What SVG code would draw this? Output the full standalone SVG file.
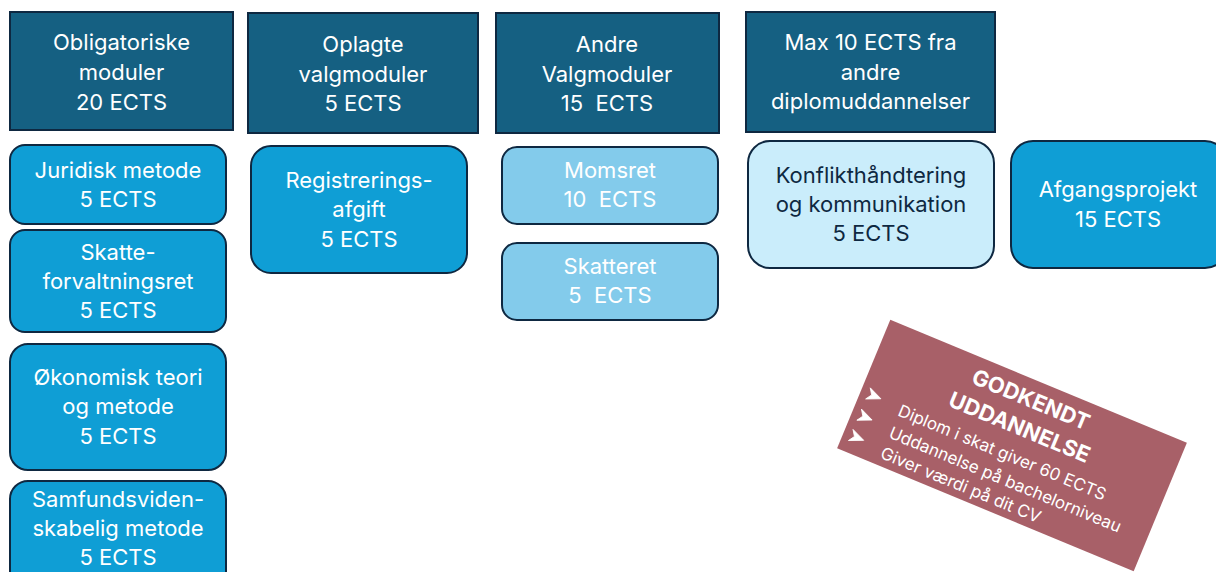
<svg xmlns="http://www.w3.org/2000/svg" width="1216" height="572" viewBox="0 0 1216 572">
<style>
.hdr{fill:#156082;stroke:#0E2841;stroke-width:2}
.mod{fill:#0F9ED5;stroke:#0E2841;stroke-width:2}
.lt{fill:#83CBEB;stroke:#0E2841;stroke-width:2}
.xl{fill:#CAEDFB;stroke:#0E2841;stroke-width:2}
text{font-family:Inter,"Liberation Sans",sans-serif;font-size:22px;fill:#fff;text-anchor:middle}
.dk{fill:#0E2841}
.ttl{font-weight:bold;font-size:22px}
.bl{font-size:17px;text-anchor:start}
</style>
<defs>
<path id="bul" d="M-7,-6 L7,0 L-7,6 L-3,0 Z" fill="#fff" stroke="#fff" stroke-width="0.8" stroke-linejoin="round"/>
</defs>
<rect width="1216" height="572" fill="#fff"/>
<g id="h1"><rect class="hdr" x="10" y="12" width="223" height="118"/><text x="121.5" y="50">Obligatoriske</text><text x="121.5" y="80">moduler</text><text x="121.5" y="110">20 ECTS</text></g>
<g id="h2"><rect class="hdr" x="248" y="13" width="230" height="120"/><text x="363" y="52">Oplagte</text><text x="363" y="82">valgmoduler</text><text x="363" y="111">5 ECTS</text></g>
<g id="h3"><rect class="hdr" x="496" y="13" width="223" height="120"/><text x="607" y="52">Andre</text><text x="607" y="82">Valgmoduler</text><text x="607" y="111" xml:space="preserve">15  ECTS</text></g>
<g id="h4"><rect class="hdr" x="746" y="12" width="249" height="120"/><text x="870.5" y="50">Max 10 ECTS fra</text><text x="870.5" y="80">andre</text><text x="870.5" y="109">diplomuddannelser</text></g>
<g id="juridisk"><rect class="mod" x="10" y="145" width="216" height="79" rx="15"/><text x="118" y="178">Juridisk metode</text><text x="118" y="207">5 ECTS</text></g>
<g id="skatteforvaltning"><rect class="mod" x="10" y="230" width="216" height="102" rx="15"/><text x="118" y="260">Skatte-</text><text x="118" y="289">forvaltningsret</text><text x="118" y="318">5 ECTS</text></g>
<g id="oekonomisk"><rect class="mod" x="10" y="344" width="216" height="126" rx="18"/><text x="118" y="385">Økonomisk teori</text><text x="118" y="414">og metode</text><text x="118" y="444">5 ECTS</text></g>
<g id="samfund"><rect class="mod" x="10" y="481" width="216" height="110" rx="18"/><text x="118" y="507">Samfundsviden-</text><text x="118" y="536">skabelig metode</text><text x="118" y="565">5 ECTS</text></g>
<g id="registrering"><rect class="mod" x="251" y="146" width="216" height="127" rx="20"/><text x="359" y="188">Registrerings-</text><text x="359" y="217">afgift</text><text x="359" y="247">5 ECTS</text></g>
<g id="momsret"><rect class="lt" x="502" y="147" width="216" height="77" rx="15"/><text x="610" y="178">Momsret</text><text x="610" y="207" xml:space="preserve">10  ECTS</text></g>
<g id="skatteret"><rect class="lt" x="502" y="243" width="216" height="77" rx="15"/><text x="610" y="274">Skatteret</text><text x="610" y="303" xml:space="preserve">5  ECTS</text></g>
<g id="konflikt"><rect class="xl" x="748" y="141" width="246" height="127" rx="22"/><text class="dk" x="871" y="183">Konflikthåndtering</text><text class="dk" x="871" y="212">og kommunikation</text><text class="dk" x="871" y="241">5 ECTS</text></g>
<g id="afgang"><rect class="mod" x="1011" y="141" width="216" height="127" rx="22"/><text x="1118" y="197">Afgangsprojekt</text><text x="1118" y="227">15 ECTS</text></g>
<g id="connectors"></g>
<g id="godkendt" transform="translate(1012 445.5) rotate(22.5)">
<rect x="-160.5" y="-69.5" width="321" height="139" fill="#A86068"/>
<text class="ttl" x="0" y="-42">GODKENDT</text>
<text class="ttl" x="0" y="-12">UDDANNELSE</text>
<use href="#bul" x="-146" y="7"/><text class="bl" x="-118" y="16">Diplom i skat giver 60 ECTS</text>
<use href="#bul" x="-146" y="30"/><text class="bl" x="-118" y="40">Uddannelse på bachelorniveau</text>
<use href="#bul" x="-146" y="52"/><text class="bl" x="-118" y="62">Giver værdi på dit CV</text>
</g>
</svg>
